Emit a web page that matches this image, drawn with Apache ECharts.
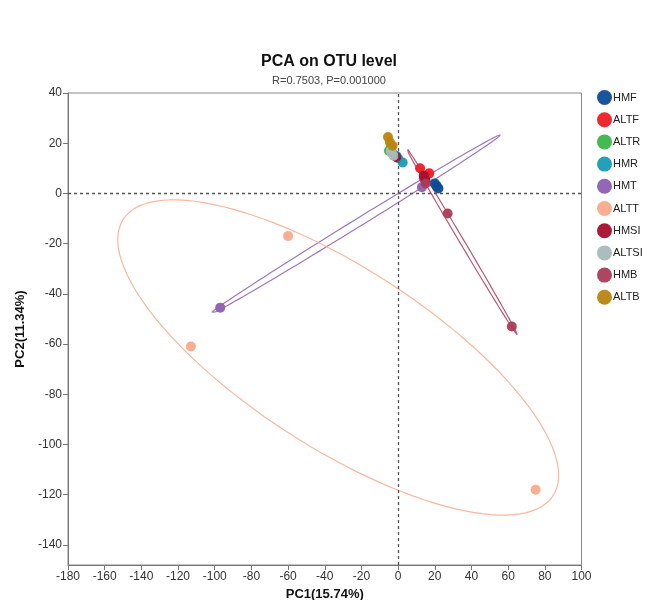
<!DOCTYPE html>
<html><head><meta charset="utf-8">
<script src="https://cdn.jsdelivr.net/npm/echarts@6/dist/echarts.min.js"></script>
<style>html,body{margin:0;padding:0;background:#fff}#c{width:647px;height:600px}</style>
</head><body><div id="c"></div>
<script>
const groups = ['HMF','ALTF','ALTR','HMR','HMT','ALTT','HMSI','ALTSI','HMB','ALTB'];
const colors = ['#0d4c96','#ee1c25','#3cb44b','#1a9bb5','#8e5fb0','#f9aa8c','#a50f2d','#a9b9ba','#a93c5a','#bb8410'];
const HMF = [[20,4],[22,2],[21,3]];
const ALTF = [[12,10],[17,8],[15,7]];
const ALTR = [[-5,17],[-4,18],[-3,16]];
const HMR = [[2.5,12.3],[0,14],[-1,15]];
const HMT = [[-97,-45.5],[13,2.5],[14,6]];
const ALTT = [[-60,-17],[-113,-61],[75,-118]];
const HMSI = [[-1,14.5],[15,5],[14,7]];
const ALTSI = [[-3.5,16],[-2.5,15],[-4,17]];
const HMB = [[27,-8],[62,-53],[15,4]];
const ALTB = [[-5.5,22.5],[-4.5,20.5],[-3,19]];
const xTicks = [-180,-160,-140,-120,-100,-80,-60,-40,-20,0,20,40,60,80,100];
const yTicks = [-140,-120,-100,-80,-60,-40,-20,0,20,40];
const groupData = [HMF,ALTF,ALTR,HMR,HMT,ALTT,HMSI,ALTSI,HMB,ALTB];
const ellipseGroups = ['HMT','ALTT','HMB'];
const K = 1.24;

function ellipse(pts){
  const n = pts.length;
  const mx = pts.reduce((s,p)=>s+p[0],0)/n, my = pts.reduce((s,p)=>s+p[1],0)/n;
  let sxx=0,syy=0,sxy=0;
  pts.forEach(p=>{const dx=p[0]-mx,dy=p[1]-my;sxx+=dx*dx;syy+=dy*dy;sxy+=dx*dy;});
  sxx/=(n-1);syy/=(n-1);sxy/=(n-1);
  const m=(sxx+syy)/2, d=Math.sqrt(((sxx-syy)/2)**2+sxy*sxy);
  const l1=m+d,l2=Math.max(m-d,0);
  const th=0.5*Math.atan2(2*sxy,sxx-syy);
  const a=K*Math.sqrt(l1), b=K*Math.sqrt(l2);
  const out=[];
  for(let i=0;i<=120;i++){
    const t=i/120*2*Math.PI;
    const ex=a*Math.cos(t), ey=b*Math.sin(t);
    out.push([mx+ex*Math.cos(th)-ey*Math.sin(th), my+ex*Math.sin(th)+ey*Math.cos(th)]);
  }
  return out;
}

const series = [];
ellipseGroups.forEach(g=>{
  const i = groups.indexOf(g);
  series.push({type:'line', name:g+'_ellipse', data:ellipse(groupData[i]), showSymbol:false, symbol:'none',
    lineStyle:{color:colors[i], width:1.2, opacity:0.85}, silent:true, z:1, animation:false});
});
series.push({type:'line', name:'zero', data:[], silent:true, animation:false,
  markLine:{silent:true, symbol:'none', label:{show:false},
    lineStyle:{color:'#555', type:[3,3], width:1.3},
    data:[{xAxis:0},{yAxis:0}]}});
groups.forEach((g,i)=>{
  series.push({type:'scatter', name:g, data:groupData[i], symbolSize:10,
    itemStyle:{color:colors[i], opacity:0.95}, z:3, animation:false});
});

const chart = echarts.init(document.getElementById('c'));
chart.setOption({
  backgroundColor:'#fff',
  animation:false,
  textStyle:{fontFamily:'Arial, "Liberation Sans", sans-serif'},
  title:{text:'PCA on OTU level', subtext:'R=0.7503, P=0.001000', left:324, textAlign:'center', top:49, itemGap:5,
    textStyle:{fontSize:16, fontWeight:'bold', color:'#111', fontFamily:'Arial, "Liberation Sans", sans-serif'},
    subtextStyle:{fontSize:11, color:'#444', fontFamily:'Arial, "Liberation Sans", sans-serif'}},
  legend:{data:groups, orient:'vertical', left:597, top:90, padding:0, icon:'circle', itemWidth:15, itemHeight:15, itemGap:7.2,
    textStyle:{fontSize:11, color:'#222', padding:[0,0,0,-4]}},
  grid:{left:68, right:65.5, top:93, bottom:35, show:true, borderColor:'#888', borderWidth:1, outerBoundsMode:'none', containLabel:false},
  xAxis:{type:'value', min:-180, max:100, interval:20,
    name:'PC1(15.74%)', nameLocation:'middle', nameGap:21,
    nameTextStyle:{fontSize:13, fontWeight:'bold', color:'#111'},
    axisLine:{onZero:false, lineStyle:{color:'#777'}},
    axisTick:{show:true, length:5, lineStyle:{color:'#777'}},
    axisLabel:{fontSize:12, color:'#333', margin:6},
    splitLine:{show:false}},
  yAxis:{type:'value', min:-148, max:40,
    name:'PC2(11.34%)', nameLocation:'middle', nameGap:38, nameRotate:90,
    nameTextStyle:{fontSize:13, fontWeight:'bold', color:'#111'},
    axisLine:{onZero:false, lineStyle:{color:'#777'}},
    axisTick:{show:true, length:5, customValues:yTicks, lineStyle:{color:'#777'}},
    axisLabel:{fontSize:12, color:'#333', margin:6, customValues:yTicks},
    splitLine:{show:false}},
  series:series
});
</script></body></html>
